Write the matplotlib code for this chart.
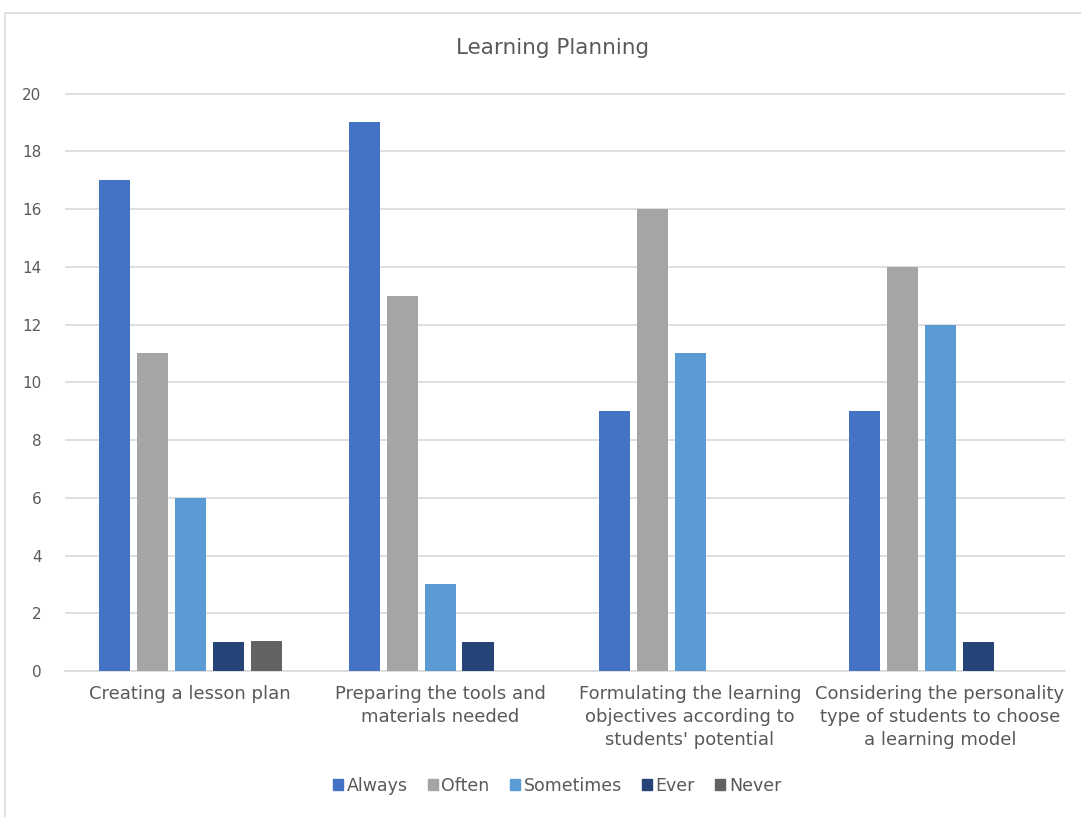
import matplotlib
matplotlib.use("Agg")
import matplotlib.pyplot as plt
from matplotlib.patches import Rectangle, Patch
import numpy as np

categories = ["Creating a lesson plan",
              "Preparing the tools and\nmaterials needed",
              "Formulating the learning\nobjectives according to\nstudents' potential",
              "Considering the personality\ntype of students to choose\na learning model"]
series_names = ["Always", "Often", "Sometimes", "Ever", "Never"]
always = [17, 19, 9, 9]
often = [11, 13, 16, 14]
sometimes = [6, 3, 11, 12]
ever = [1, 1, 0, 1]
never = [1.03, 0, 0, 0]
colors = ["#4472C4", "#A5A5A5", "#5B9BD5", "#264478", "#636363"]
yticks = [0, 2, 4, 6, 8, 10, 12, 14, 16, 18, 20]

plt.rcParams['font.family'] = ['DejaVu Sans']
W, H = 1081, 817
fig = plt.figure(figsize=(W/100, H/100), dpi=100)
txt = "#595959"

# chart border
fig.add_artist(Rectangle((5/W, -0.01), 1.2, (H-13)/H + 0.01, transform=fig.transFigure,
                         fill=False, edgecolor="#D9D9D9", linewidth=1.2))

ax = fig.add_axes([65/W, (H-671)/H, 1000/W, (671-93)/H])
data = [always, often, sometimes, ever, never]
x = np.arange(len(categories))
step = 0.152
width = 0.124
for i, (vals, c, name) in enumerate(zip(data, colors, series_names)):
    ax.bar(x + (i-2)*step, vals, width, color=c, label=name, zorder=3)

ax.set_xlim(-0.5, 3.5)
ax.set_ylim(0, 20.02)
ax.set_yticks(yticks)
ax.set_yticklabels([str(t) for t in yticks], color=txt, fontsize=11)
ax.grid(axis='y', color="#D9D9D9", linewidth=1.2, zorder=0)
for s in ["left", "right", "top"]:
    ax.spines[s].set_visible(False)
ax.spines["bottom"].set_color("#D9D9D9")
ax.spines["bottom"].set_linewidth(1.2)
ax.tick_params(axis='y', length=0, pad=17)
ax.set_xticks(x)
ax.set_xticklabels(categories, color=txt, fontsize=13, linespacing=1.36, va='top')
ax.tick_params(axis='x', length=0, pad=10)

fig.text(553/W, 1 - 48/H, "Learning Planning", ha='center', va='center',
         fontsize=15.5, color=txt)

handles = [Patch(color=c) for c in colors]
fig.legend(handles, series_names, loc='center', bbox_to_anchor=(557/W, 1 - 786/H),
           ncol=5, frameon=False, fontsize=12.5, labelcolor=txt,
           handlelength=0.6, handleheight=0.6, handletextpad=0.2, columnspacing=1.15)

fig.savefig("out.png", dpi=100)
